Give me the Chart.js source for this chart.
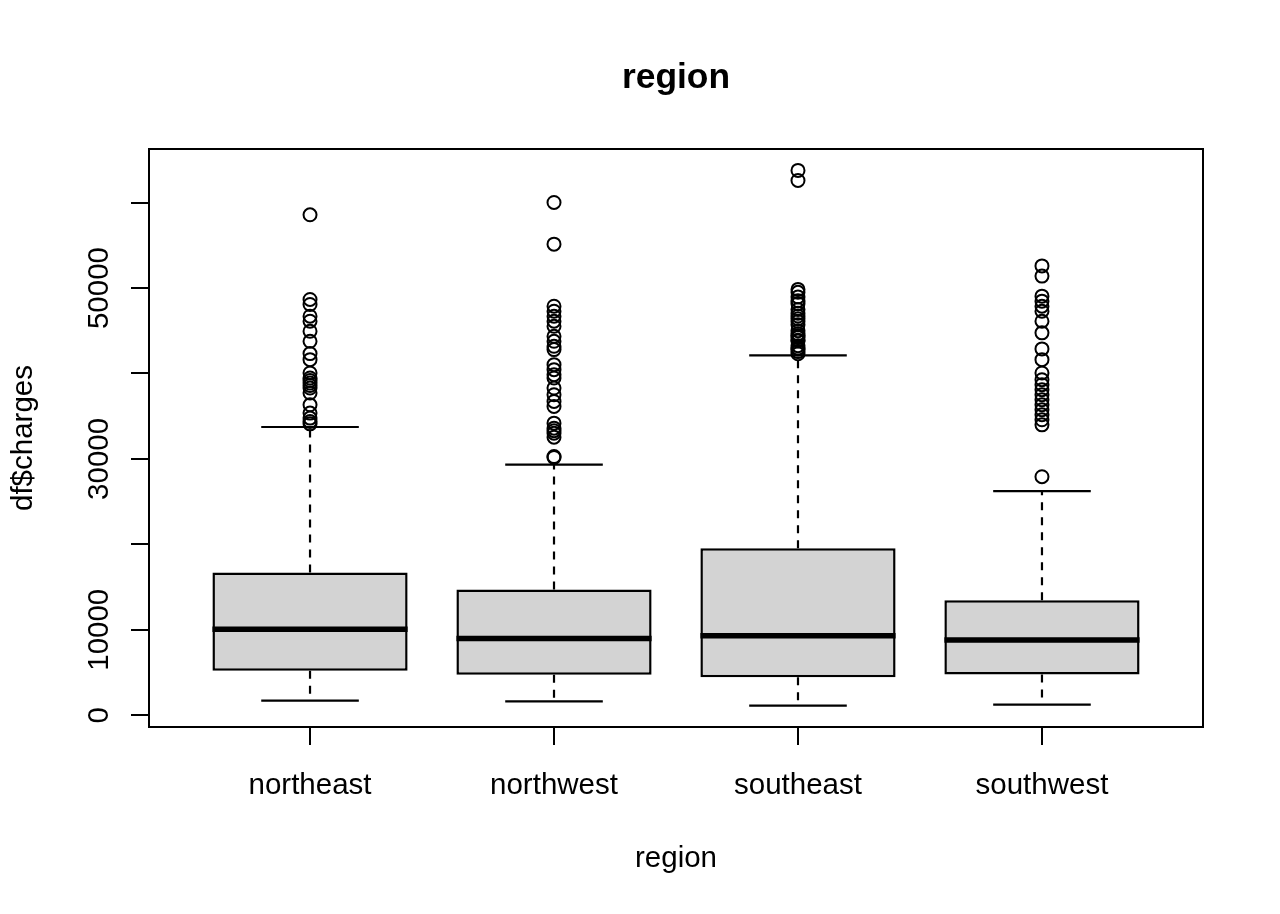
<!DOCTYPE html>
<html>

<head>
    <meta charset="UTF-8">
    <title>region</title>
    <script src="https://cdn.jsdelivr.net/npm/chart.js@4.4.1/dist/chart.umd.min.js"></script>
    <style>
        html, body { margin: 0; padding: 0; background: #fff; }
        #wrap { width: 1280px; height: 914px; }
    </style>
</head>

<body>
    <div id="wrap"><canvas id="chart" width="1280" height="914"></canvas></div>

    <script>
        // groups and box statistics (df$charges by region)
        var regions = ['northeast', 'northwest', 'southeast', 'southwest'];
        var lowerWhisker = [1694.80, 1621.34, 1121.87, 1241.57];
        var q1 = [5194.32, 4719.74, 4440.89, 4751.07];
        var median = [10057.65, 8965.80, 9294.13, 8798.59];
        var q3 = [16687.36, 14711.74, 19526.29, 13462.52];
        var upperWhisker = [33732.69, 29330.98, 42112.24, 26236.58];

        // outliers
        var outNortheast = [58571, 48663, 48076, 46702, 46115, 44941, 43767, 42323, 41619, 40057, 39470,
            39180, 38883, 38600, 38296, 37709, 36335, 35361, 34774, 34374, 34105];
        var outNorthwest = [60021, 55135, 47876, 47289, 46702, 46115, 45528, 44354, 43767, 43180, 42793,
            41031, 40444, 39857, 39470, 38296, 37509, 36723, 36136, 34187, 33600, 33300, 33013, 32543,
            30266, 30166];
        var outSoutheast = [63770, 62593, 49840, 49500, 48960, 48520, 48170, 47500, 47060, 46720, 46400,
            46110, 45710, 45000, 44640, 44420, 44200, 43900, 43810, 43250, 42970, 42860, 42560, 42300];
        var outSouthwest = [52591, 51398, 49050, 48463, 47876, 47289, 46115, 44753, 42874, 41618, 40057,
            39271, 38684, 38097, 37510, 36923, 36336, 35749, 35162, 34575, 33988, 27918];

        var yTicks = [0, 10000, 20000, 30000, 40000, 50000, 60000];
        var yTickLabels = ['0', '10000', '', '30000', '', '50000', ''];

        var FONT = '"Liberation Sans", Arial, sans-serif';
        var outliers = [outNortheast, outNorthwest, outSoutheast, outSouthwest];

        // R style ranges: 4% padding around data, groups at 1..n
        var allVals = lowerWhisker.concat(upperWhisker);
        outliers.forEach(function (o) { allVals = allVals.concat(o); });
        var yMin = Math.min.apply(null, allVals), yMax = Math.max.apply(null, allVals);
        var yPad = (yMax - yMin) * 0.04;
        var xPad = (regions.length) * 0.04;

        var boxData = [], whiskerData = [], upCapData = [], lowCapData = [], medianData = [], outData = [];
        regions.forEach(function (r, i) {
            var x = i + 1;
            boxData.push({ x: x, y: [q1[i], q3[i]] });
            whiskerData.push({ x: x, y: q3[i] }, { x: x, y: upperWhisker[i] }, { x: x, y: null },
                { x: x, y: q1[i] }, { x: x, y: lowerWhisker[i] }, { x: x, y: null });
            upCapData.push({ x: x - 0.2, y: upperWhisker[i] }, { x: x + 0.2, y: upperWhisker[i] }, { x: x + 0.2, y: null });
            lowCapData.push({ x: x - 0.2, y: lowerWhisker[i] }, { x: x + 0.2, y: lowerWhisker[i] }, { x: x + 0.2, y: null });
            medianData.push({ x: x - 0.4, y: median[i] }, { x: x + 0.4, y: median[i] }, { x: x + 0.4, y: null });
            outliers[i].forEach(function (v) { outData.push({ x: x, y: v }); });
        });

        // titles, tick labels and the plot frame, R base-graphics look
        var rBase = {
            id: 'rBase',
            afterDraw: function (chart) {
                var ctx = chart.ctx, a = chart.chartArea;
                var xs = chart.scales.x, ys = chart.scales.y;
                ctx.save();
                ctx.strokeStyle = '#000';
                ctx.lineWidth = 2;
                ctx.strokeRect(a.left, a.top, a.right - a.left, a.bottom - a.top);

                ctx.fillStyle = '#000';
                ctx.textAlign = 'center';
                ctx.textBaseline = 'alphabetic';
                var cx = (a.left + a.right) / 2;

                ctx.font = 'bold 35.4px ' + FONT;
                ctx.fillText('region', cx, 88);

                ctx.font = '29.5px ' + FONT;
                regions.forEach(function (r, i) {
                    ctx.fillText(r, xs.getPixelForValue(i + 1), 794);
                });
                ctx.fillText('region', cx, 867);

                yTicks.forEach(function (v, i) {
                    if (!yTickLabels[i]) return;
                    ctx.save();
                    ctx.translate(108, ys.getPixelForValue(v));
                    ctx.rotate(-Math.PI / 2);
                    ctx.fillText(yTickLabels[i], 0, 0);
                    ctx.restore();
                });

                ctx.translate(32, (a.top + a.bottom) / 2);
                ctx.rotate(-Math.PI / 2);
                ctx.fillText('df$charges', 0, 0);
                ctx.restore();
            }
        };

        var axisGrid = { drawOnChartArea: false, drawTicks: true, tickLength: 18, color: '#000', lineWidth: 2, offset: false };

        new Chart(document.getElementById('chart'), {
            type: 'scatter',
            data: {
                datasets: [{
                    type: 'bar',
                    data: boxData,
                    backgroundColor: '#D3D3D3',
                    borderColor: '#000',
                    borderWidth: 2.5,
                    borderSkipped: false,
                    barPercentage: 0.8,
                    categoryPercentage: 1,
                    order: 5
                }, {
                    type: 'line',
                    data: whiskerData,
                    borderColor: '#000',
                    borderWidth: 2.2,
                    borderDash: [8, 7],
                    borderCapStyle: 'butt',
                    pointRadius: 0,
                    fill: false,
                    order: 4
                }, {
                    type: 'line',
                    data: upCapData,
                    borderColor: '#000',
                    borderWidth: 2.2,
                    pointRadius: 0,
                    fill: false,
                    order: 3
                }, {
                    type: 'line',
                    data: lowCapData,
                    borderColor: '#000',
                    borderWidth: 2.2,
                    pointRadius: 0,
                    fill: false,
                    order: 3
                }, {
                    type: 'line',
                    data: medianData,
                    borderColor: '#000',
                    borderWidth: 5.5,
                    borderCapStyle: 'butt',
                    pointRadius: 0,
                    fill: false,
                    order: 2
                }, {
                    type: 'scatter',
                    data: outData,
                    pointStyle: 'circle',
                    pointRadius: 6.5,
                    pointBorderWidth: 2,
                    pointBorderColor: '#000',
                    pointBackgroundColor: 'rgba(0,0,0,0)',
                    order: 1
                }]
            },
            options: {
                responsive: false,
                animation: false,
                devicePixelRatio: 1,
                layout: { padding: { left: 0, right: 77, top: 149, bottom: 0 } },
                plugins: { legend: { display: false }, tooltip: { enabled: false }, title: { display: false } },
                scales: {
                    x: {
                        type: 'linear',
                        offset: false,
                        min: 1 - 0.5 - xPad,
                        max: regions.length + 0.5 + xPad,
                        grid: axisGrid,
                        border: { display: false },
                        ticks: { display: false },
                        afterBuildTicks: function (s) { s.ticks = regions.map(function (r, i) { return { value: i + 1 }; }); },
                        afterFit: function (s) { s.height = 187; }
                    },
                    y: {
                        type: 'linear',
                        offset: false,
                        min: yMin - yPad,
                        max: yMax + yPad,
                        grid: axisGrid,
                        border: { display: false },
                        ticks: { display: false },
                        afterBuildTicks: function (s) { s.ticks = yTicks.map(function (v) { return { value: v }; }); },
                        afterFit: function (s) { s.width = 149; }
                    }
                }
            },
            plugins: [rBase]
        });
    </script>
</body>

</html>
